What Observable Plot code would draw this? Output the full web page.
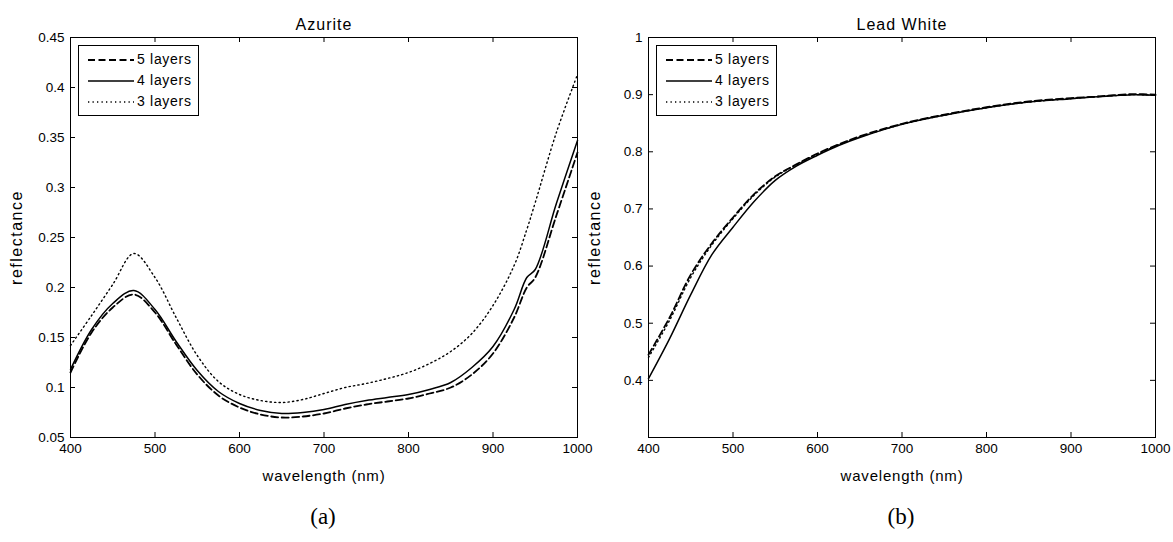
<!DOCTYPE html>
<html><head><meta charset="utf-8">
<script src="https://cdn.jsdelivr.net/npm/d3@7"></script>
<script src="https://cdn.jsdelivr.net/npm/@observablehq/plot@0.6"></script>
<style>
body{margin:0;background:#fff;width:1173px;height:542px;position:relative;overflow:hidden;font-family:"Liberation Sans",Arial,sans-serif}
.panel{position:absolute;top:0}
.panel svg{overflow:visible}
.panel g[aria-label="x-axis label"] text{letter-spacing:0.8px}
.panel g[aria-label="y-axis label"] text{letter-spacing:1.5px}
.panel g[aria-label="text"] text{letter-spacing:1px}
.legend{position:absolute;border:1px solid #000;background:#fff;font-size:14px;letter-spacing:0.7px;padding:3px 6px 3px 8px;line-height:21px}
.legend div{display:flex;align-items:center;white-space:nowrap}
.legend svg{margin-right:2px}
.cap{position:absolute;font-family:"Liberation Serif","Times New Roman",serif;font-size:23px;top:504px;transform:translateX(-50%)}
</style></head><body>
<script>
// ---------- data ----------
const seriesNames = ["5 layers", "4 layers", "3 layers"];
const xTicks = [400, 500, 600, 700, 800, 900, 1000];

// (a) Azurite
const azuriteWl = [400,425,450,475,500,525,550,575,600,625,650,675,700,725,750,775,800,825,850,875,900,925,940,950,975,1000];
const azurite5 = [0.115,0.155,0.180,0.193,0.175,0.143,0.113,0.092,0.080,0.073,0.070,0.071,0.074,0.079,0.083,0.086,0.089,0.094,0.100,0.113,0.134,0.170,0.200,0.210,0.272,0.335];
const azurite4 = [0.118,0.158,0.184,0.197,0.178,0.146,0.117,0.096,0.084,0.077,0.074,0.075,0.078,0.083,0.087,0.090,0.093,0.098,0.105,0.120,0.141,0.178,0.210,0.218,0.284,0.347];
const azurite3 = [0.142,0.172,0.203,0.234,0.210,0.170,0.132,0.106,0.093,0.087,0.085,0.088,0.094,0.100,0.104,0.109,0.115,0.124,0.136,0.154,0.182,0.222,0.258,0.285,0.355,0.413];
const azuriteYTicks = [0.05,0.1,0.15,0.2,0.25,0.3,0.35,0.4,0.45];

// (b) Lead White
const leadWl = [400,425,450,475,500,525,550,575,600,625,650,700,750,800,850,900,925,950,975,1000];
const lead5 = [0.445,0.510,0.585,0.640,0.685,0.726,0.757,0.778,0.797,0.813,0.827,0.849,0.865,0.878,0.888,0.894,0.896,0.899,0.901,0.900];
const lead4 = [0.403,0.473,0.550,0.620,0.668,0.713,0.750,0.775,0.794,0.811,0.825,0.848,0.864,0.877,0.887,0.893,0.896,0.898,0.900,0.899];
const lead3 = [0.440,0.505,0.580,0.637,0.683,0.724,0.756,0.777,0.796,0.812,0.826,0.848,0.864,0.877,0.887,0.893,0.896,0.898,0.900,0.899];
const leadYTicks = [0.4,0.5,0.6,0.7,0.8,0.9,1];

// ---------- styles ----------
const lineStyles = {
  "5 layers": {strokeWidth: 1.8, strokeDasharray: "7,3.5"},
  "4 layers": {strokeWidth: 1.5},
  "3 layers": {strokeWidth: 1.4, strokeDasharray: "1.3,3.2"}
};

function makePanel({title, wl, values, yDomain, yTicks, left}) {
  const W = 586, H = 490, mL = 70, mR = 9, mT = 37, mB = 53;
  const iw = W - mL - mR, ih = H - mT - mB;
  const fmt = d => String(+d.toFixed(2));
  const lines = seriesNames.map((name, i) => {
    const rows = wl.map((w, j) => ({wl: w, v: values[i][j]}));
    return Plot.line(rows, {x: "wl", y: "v", stroke: "#000", curve: "catmull-rom", ...lineStyles[name]});
  });
  const chart = Plot.plot({
    width: W, height: H,
    marginLeft: mL, marginRight: mR, marginTop: mT, marginBottom: mB,
    style: {fontFamily: "'Liberation Sans', Arial, sans-serif", fontSize: "13.5px", background: "transparent", color: "#000", overflow: "visible"},
    x: {domain: [400, 1000]},
    y: {domain: yDomain},
    marks: [
      ...lines.reverse(),
      Plot.frame({stroke: "#000", strokeWidth: 1}),
      Plot.tickX(xTicks, {x: d => d, stroke: "#000", insetTop: ih - 5}),
      Plot.tickX(xTicks, {x: d => d, stroke: "#000", insetBottom: ih - 5}),
      Plot.tickY(yTicks, {y: d => d, stroke: "#000", insetRight: iw - 5}),
      Plot.tickY(yTicks, {y: d => d, stroke: "#000", insetLeft: iw - 5}),
      Plot.axisX({ticks: xTicks, tickSize: 0, tickPadding: 6, tickFormat: d => String(d), fontSize: 13.5, label: null}),
      Plot.axisX({ticks: [], label: "wavelength (nm)", labelAnchor: "center", labelArrow: "none", labelOffset: 43, fontSize: 15}),
      Plot.axisY({ticks: yTicks, tickSize: 0, tickPadding: 6, tickFormat: fmt, fontSize: 13.5, label: null}),
      Plot.axisY({ticks: [], label: "reflectance", labelAnchor: "center", labelArrow: "none", labelOffset: 60, fontSize: 16}),
      Plot.text([title], {text: d => d, frameAnchor: "top", dy: -19, fontSize: 16})
    ]
  });
  const div = document.createElement("div");
  div.className = "panel";
  div.style.left = left + "px";
  div.appendChild(chart);
  // legend
  const lg = document.createElement("div");
  lg.className = "legend";
  lg.style.left = (mL + 8) + "px";
  lg.style.top = (mT + 8) + "px";
  seriesNames.forEach(name => {
    const st = lineStyles[name];
    const row = document.createElement("div");
    row.innerHTML = `<svg width="48" height="10"><line x1="1" x2="47" y1="5" y2="5" stroke="#000" stroke-width="${st.strokeWidth}" ${st.strokeDasharray ? `stroke-dasharray="${st.strokeDasharray}"` : ""}/></svg><span>${name}</span>`;
    lg.appendChild(row);
  });
  div.appendChild(lg);
  document.body.appendChild(div);
}

makePanel({title: "Azurite", wl: azuriteWl, values: [azurite5, azurite4, azurite3],
  yDomain: [0.05, 0.45], yTicks: azuriteYTicks, left: 0});
makePanel({title: "Lead White", wl: leadWl, values: [lead5, lead4, lead3],
  yDomain: [0.3, 1], yTicks: leadYTicks, left: 578});

const capA = document.createElement("div");
capA.className = "cap"; capA.style.left = "323px"; capA.textContent = "(a)";
const capB = document.createElement("div");
capB.className = "cap"; capB.style.left = "901px"; capB.textContent = "(b)";
document.body.append(capA, capB);
</script>
</body></html>
